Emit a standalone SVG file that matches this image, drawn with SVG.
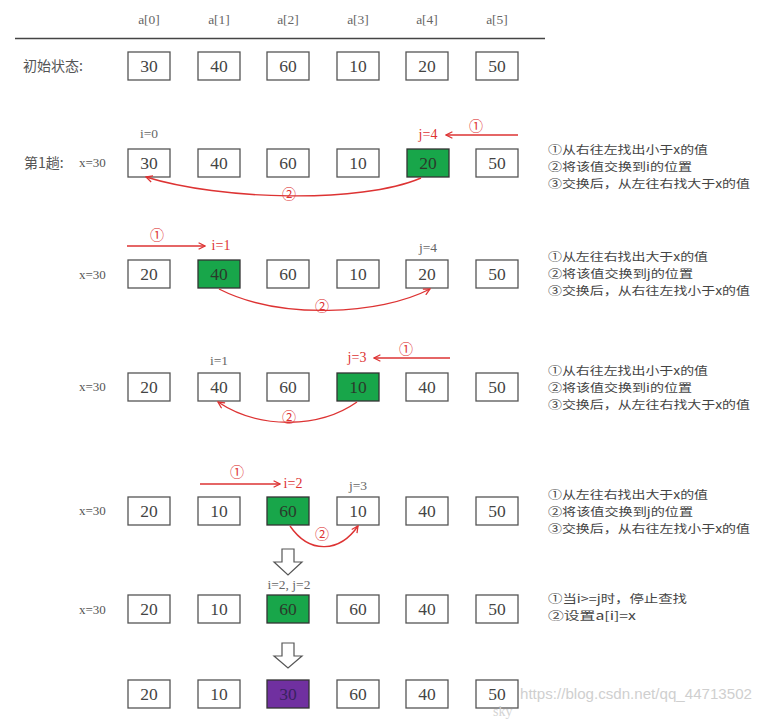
<svg xmlns="http://www.w3.org/2000/svg" width="762" height="720" viewBox="0 0 762 720">
<defs>
<style>
.bx{fill:#fff;stroke:#555;stroke-width:1.3}
.g{fill:#18a64a;stroke:#333;stroke-width:1.3}
.p{fill:#7030a0;stroke:#333;stroke-width:1.3}
.n{font-family:"Liberation Serif","Noto Sans CJK SC",serif;font-size:17.5px;fill:#444;text-anchor:middle}
.ng{font-family:"Liberation Serif",serif;font-size:17.5px;fill:#2a3a2a;text-anchor:middle}
.np{font-family:"Liberation Serif",serif;font-size:17.5px;fill:#3a2260;text-anchor:middle}
.h{font-family:"Liberation Serif",serif;font-size:13.5px;fill:#666;text-anchor:middle}
.l{font-family:"Liberation Serif","Noto Sans CJK SC",serif;font-size:13px;fill:#555}
.c{font-family:"Noto Sans CJK SC",sans-serif;font-size:14px;fill:#555}
.r{font-family:"Liberation Serif","Noto Sans CJK SC",serif;font-size:14px;fill:#d33;text-anchor:middle}
.t{font-family:"Noto Sans CJK SC",sans-serif;font-size:11.5px;fill:#444}
.a{fill:none;stroke:#d33;stroke-width:1.4}
.ho{fill:#fff;stroke:#555;stroke-width:1.2}
</style>
<marker id="ah" viewBox="0 0 10 10" refX="9" refY="5" markerWidth="8" markerHeight="8" orient="auto-start-reverse" markerUnits="userSpaceOnUse"><path d="M1,1 L9,5 L1,9" fill="none" stroke="#d33" stroke-width="1.6"/></marker>
</defs>
<rect width="762" height="720" fill="#fff"/>

<g id="header">
<text class="h" x="149" y="24">a[0]</text>
<text class="h" x="219" y="24">a[1]</text>
<text class="h" x="288" y="24">a[2]</text>
<text class="h" x="358" y="24">a[3]</text>
<text class="h" x="427" y="24">a[4]</text>
<text class="h" x="497" y="24">a[5]</text>
<line x1="15" y1="38.5" x2="545" y2="38.5" stroke="#444" stroke-width="1.5"/>
</g>

<g id="row0">
<text class="c" x="23" y="71">初始状态:</text>
<rect class="bx" x="128" y="52" width="42" height="28"/><text class="n" x="149" y="72">30</text>
<rect class="bx" x="198" y="52" width="42" height="28"/><text class="n" x="219" y="72">40</text>
<rect class="bx" x="267" y="52" width="42" height="28"/><text class="n" x="288" y="72">60</text>
<rect class="bx" x="337" y="52" width="42" height="28"/><text class="n" x="358" y="72">10</text>
<rect class="bx" x="406" y="52" width="42" height="28"/><text class="n" x="427" y="72">20</text>
<rect class="bx" x="476" y="52" width="42" height="28"/><text class="n" x="497" y="72">50</text>
</g>

<g id="row1">
<text class="c" x="24" y="168" font-size="13">第1趟:</text>
<text class="l" x="79" y="167">x=30</text>
<text class="h" x="149" y="138">i=0</text>
<text class="r" x="428" y="139">j=4</text>
<text class="r" x="476" y="131">①</text>
<rect class="bx" x="128" y="149" width="42" height="28"/><text class="n" x="149" y="169">30</text>
<rect class="bx" x="198" y="149" width="42" height="28"/><text class="n" x="219" y="169">40</text>
<rect class="bx" x="267" y="149" width="42" height="28"/><text class="n" x="288" y="169">60</text>
<rect class="bx" x="337" y="149" width="42" height="28"/><text class="n" x="358" y="169">10</text>
<rect class="g" x="407" y="149" width="42" height="28"/><text class="ng" x="428" y="169">20</text>
<rect class="bx" x="476" y="149" width="42" height="28"/><text class="n" x="497" y="169">50</text>
<text class="r" x="289" y="199">②</text>
<g class="t"><text x="548" y="154" textLength="160" lengthAdjust="spacingAndGlyphs">①从右往左找出小于x的值</text><text x="548" y="170.8" textLength="144" lengthAdjust="spacingAndGlyphs">②将该值交换到i的位置</text><text x="548" y="187.6" textLength="202" lengthAdjust="spacingAndGlyphs">③交换后，从左往右找大于x的值</text></g>
</g>

<g id="row2">
<text class="l" x="79" y="279">x=30</text>
<text class="r" x="157" y="240">①</text>
<text class="r" x="221" y="250">i=1</text>
<text class="h" x="428" y="252">j=4</text>
<rect class="bx" x="128" y="260" width="42" height="28"/><text class="n" x="149" y="280">20</text>
<rect class="g" x="198" y="260" width="42" height="28"/><text class="ng" x="219" y="280">40</text>
<rect class="bx" x="267" y="260" width="42" height="28"/><text class="n" x="288" y="280">60</text>
<rect class="bx" x="337" y="260" width="42" height="28"/><text class="n" x="358" y="280">10</text>
<rect class="bx" x="406" y="260" width="42" height="28"/><text class="n" x="427" y="280">20</text>
<rect class="bx" x="476" y="260" width="42" height="28"/><text class="n" x="497" y="280">50</text>
<text class="r" x="322" y="311">②</text>
<g class="t"><text x="548" y="261" textLength="160" lengthAdjust="spacingAndGlyphs">①从左往右找出大于x的值</text><text x="548" y="277.8" textLength="145" lengthAdjust="spacingAndGlyphs">②将该值交换到j的位置</text><text x="548" y="294.6" textLength="202" lengthAdjust="spacingAndGlyphs">③交换后，从右往左找小于x的值</text></g>
</g>

<g id="row3">
<text class="l" x="79" y="391">x=30</text>
<text class="h" x="219" y="365">i=1</text>
<text class="r" x="357" y="362">j=3</text>
<text class="r" x="406" y="354">①</text>
<rect class="bx" x="128" y="373" width="42" height="28"/><text class="n" x="149" y="393">20</text>
<rect class="bx" x="198" y="373" width="42" height="28"/><text class="n" x="219" y="393">40</text>
<rect class="bx" x="267" y="373" width="42" height="28"/><text class="n" x="288" y="393">60</text>
<rect class="g" x="337" y="373" width="42" height="28"/><text class="ng" x="358" y="393">10</text>
<rect class="bx" x="406" y="373" width="42" height="28"/><text class="n" x="427" y="393">40</text>
<rect class="bx" x="476" y="373" width="42" height="28"/><text class="n" x="497" y="393">50</text>
<text class="r" x="289" y="422">②</text>
<g class="t"><text x="548" y="375" textLength="160" lengthAdjust="spacingAndGlyphs">①从右往左找出小于x的值</text><text x="548" y="391.8" textLength="144" lengthAdjust="spacingAndGlyphs">②将该值交换到i的位置</text><text x="548" y="408.6" textLength="202" lengthAdjust="spacingAndGlyphs">③交换后，从左往右找大于x的值</text></g>
</g>

<g id="row4">
<text class="l" x="79" y="515">x=30</text>
<text class="r" x="237" y="477">①</text>
<text class="r" x="293" y="488">i=2</text>
<text class="h" x="358" y="490">j=3</text>
<rect class="bx" x="128" y="497" width="42" height="28"/><text class="n" x="149" y="517">20</text>
<rect class="bx" x="198" y="497" width="42" height="28"/><text class="n" x="219" y="517">10</text>
<rect class="g" x="267" y="497" width="42" height="28"/><text class="ng" x="288" y="517">60</text>
<rect class="bx" x="337" y="497" width="42" height="28"/><text class="n" x="358" y="517">10</text>
<rect class="bx" x="406" y="497" width="42" height="28"/><text class="n" x="427" y="517">40</text>
<rect class="bx" x="476" y="497" width="42" height="28"/><text class="n" x="497" y="517">50</text>
<text class="r" x="322" y="539">②</text>
<g class="t"><text x="548" y="499" textLength="160" lengthAdjust="spacingAndGlyphs">①从左往右找出大于x的值</text><text x="548" y="515.8" textLength="145" lengthAdjust="spacingAndGlyphs">②将该值交换到j的位置</text><text x="548" y="532.6" textLength="202" lengthAdjust="spacingAndGlyphs">③交换后，从右往左找小于x的值</text></g>
</g>

<g id="arrow1"><path class="ho" d="M282,549 H294 V562 H302 L288,575 L274,562 H282 Z"/></g>

<g id="row5">
<text class="l" x="79" y="614">x=30</text>
<text class="h" x="289" y="589">i=2, j=2</text>
<rect class="bx" x="128" y="595" width="42" height="28"/><text class="n" x="149" y="615">20</text>
<rect class="bx" x="198" y="595" width="42" height="28"/><text class="n" x="219" y="615">10</text>
<rect class="g" x="267" y="595" width="42" height="28"/><text class="ng" x="288" y="615">60</text>
<rect class="bx" x="337" y="595" width="42" height="28"/><text class="n" x="358" y="615">60</text>
<rect class="bx" x="406" y="595" width="42" height="28"/><text class="n" x="427" y="615">40</text>
<rect class="bx" x="476" y="595" width="42" height="28"/><text class="n" x="497" y="615">50</text>
<g class="t"><text x="548" y="603" textLength="139" lengthAdjust="spacingAndGlyphs">①当i&gt;=j时，停止查找</text><text x="548" y="619.8" textLength="88" lengthAdjust="spacingAndGlyphs">②设置a[i]=x</text></g>
</g>

<g id="arrow2"><path class="ho" d="M282,643 H294 V656 H302 L288,668 L274,656 H282 Z"/></g>

<g id="row6">
<rect class="bx" x="128" y="680" width="42" height="28"/><text class="n" x="149" y="700">20</text>
<rect class="bx" x="198" y="680" width="42" height="28"/><text class="n" x="219" y="700">10</text>
<rect class="p" x="267" y="680" width="42" height="28"/><text class="np" x="288" y="700">30</text>
<rect class="bx" x="337" y="680" width="42" height="28"/><text class="n" x="358" y="700">60</text>
<rect class="bx" x="406" y="680" width="42" height="28"/><text class="n" x="427" y="700">40</text>
<rect class="bx" x="476" y="680" width="42" height="28"/><text class="n" x="497" y="700">50</text>
</g>

<g id="watermark">
<text x="520" y="699" font-family="Liberation Sans,sans-serif" font-size="15.5" fill="#cfcfcf" textLength="232" lengthAdjust="spacingAndGlyphs">https://blog.csdn.net/qq_44713502</text>
<text x="493" y="715.5" font-family="Liberation Serif,serif" font-size="14" fill="#d4d4d4">sky</text>
</g>

<g id="connectors">
<line class="a" x1="518" y1="135" x2="446" y2="135" marker-end="url(#ah)"/>
<path class="a" d="M421,178 C360,204 220,200 146,177" marker-end="url(#ah)"/>
<line class="a" x1="127" y1="246" x2="205" y2="246" marker-end="url(#ah)"/>
<path class="a" d="M219,289 C280,320 380,315 430,289" marker-end="url(#ah)"/>
<line class="a" x1="450" y1="358" x2="374" y2="358" marker-end="url(#ah)"/>
<path class="a" d="M357,402 C320,428 260,430 218,402" marker-end="url(#ah)"/>
<line class="a" x1="200" y1="484" x2="280" y2="484" marker-end="url(#ah)"/>
<path class="a" d="M290,526 C310,555 340,552 358,526" marker-end="url(#ah)"/>
</g>
</svg>
